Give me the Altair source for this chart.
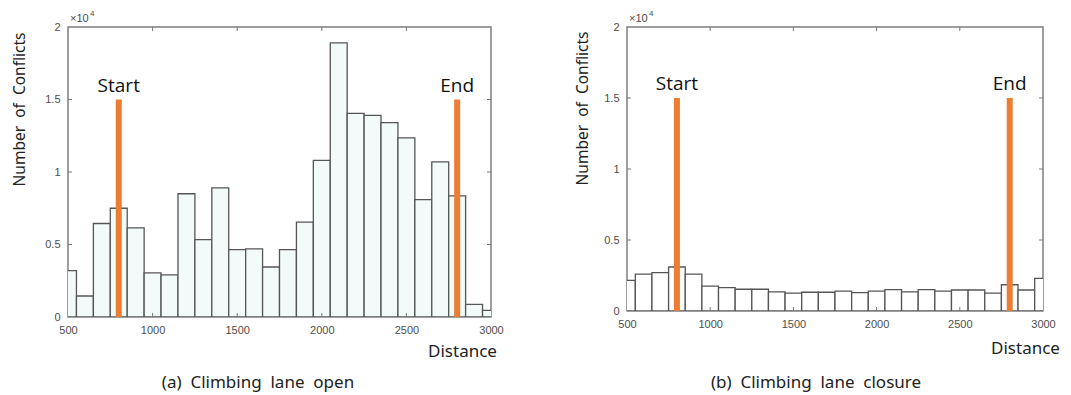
import altair as alt
import pandas as pd

# bin centres (bin width 100)
centers = [500, 600, 700, 800, 900, 1000, 1100, 1200, 1300, 1400, 1500, 1600, 1700,
           1800, 1900, 2000, 2100, 2200, 2300, 2400, 2500, 2600, 2700, 2800, 2900, 3000]
open_counts = [3200, 1450, 6450, 7500, 6150, 3050, 2900, 8500, 5330, 8900, 4650, 4700, 3450,
               4650, 6550, 10800, 18900, 14050, 13900, 13400, 12350, 8100, 10700, 8350, 870, 460]
closure_counts = [2150, 2600, 2700, 3100, 2600, 1750, 1650, 1530, 1530, 1340, 1260, 1320, 1320,
                  1400, 1300, 1400, 1500, 1350, 1500, 1400, 1480, 1480, 1260, 1850, 1480, 2300]

marker_pos = [800, 2800]
marker_top = [15000, 15000]
marker_labels = ["Start", "End"]

x_ticks = [500, 1000, 1500, 2000, 2500, 3000]
y_ticks = [0, 5000, 10000, 15000, 20000]
inner_x_ticks = [1000, 1500, 2000, 2500]
inner_y_ticks = [5000, 10000, 15000]

exp_base = ["×10"]
exp_power = ["4"]
captions = ["(a)\u00a0 Climbing\u00a0 lane\u00a0 open", "(b)\u00a0 Climbing\u00a0 lane\u00a0 closure"]
y_title = "Number\u00a0 of\u00a0 Conflicts"
x_title = "Distance"

GREY = "#4d4d4d"
ORANGE = "#ED7D31"


def panel(counts, width, height, fill, caption, ytx, yty, xtx, xty, cap_x, cap_y):
    df = pd.DataFrame({
        "start": [c - 50 for c in centers],
        "end": [c + 50 for c in centers],
        "count": counts,
        "zero": [0] * len(centers),
    })
    xs = alt.Scale(domain=[500, 3000], nice=False, zero=False)
    ys = alt.Scale(domain=[0, 20000], nice=False)

    bars = alt.Chart(df).mark_rect(
        fill=fill, stroke="#555555", strokeWidth=1.3, clip=True
    ).encode(
        x=alt.X("start:Q", scale=xs, axis=alt.Axis(
            values=x_ticks, format="d", title=x_title, grid=False, domain=False,
            ticks=False, tickSize=0, labelPadding=7, labelFontSize=11, labelColor=GREY,
            labelFont="Liberation Sans", titleFont="Noto Sans", titleFontSize=17,
            titleFontWeight="normal", titleColor="#222222", titleX=xtx, titleY=xty,
            titleAlign="center", titleBaseline="middle", labelFlush=False)),
        x2="end:Q",
        y=alt.Y("count:Q", scale=ys, axis=alt.Axis(
            values=y_ticks, labelExpr="datum.value / 10000", title=y_title,
            grid=False, domain=False, ticks=False, tickSize=0, labelPadding=8,
            labelFontSize=11, labelColor=GREY, labelFont="Liberation Sans",
            titleFont="Noto Sans", titleFontSize=15.5, titleFontWeight="normal",
            titleColor="#222222", titleX=ytx, titleY=yty, titleAlign="center",
            titleBaseline="middle", titleAngle=270)),
        y2="zero:Q",
    )

    mdf = pd.DataFrame({"pos": marker_pos, "top": marker_top, "label": marker_labels,
                        "zero": [0, 0]})
    rules = alt.Chart(mdf).mark_rule(color=ORANGE, strokeWidth=6).encode(
        x=alt.X("pos:Q", scale=xs), y=alt.Y("top:Q", scale=ys), y2="zero:Q")
    mtext = alt.Chart(mdf).mark_text(
        baseline="bottom", dy=-4, fontSize=19, font="Open Sans", color="#111111"
    ).encode(x=alt.X("pos:Q", scale=xs), y=alt.Y("top:Q", scale=ys), text="label:N")

    # inside tick marks (MATLAB box style)
    ydf = pd.DataFrame({"v": inner_y_ticks})
    xdf = pd.DataFrame({"v": inner_x_ticks})
    tl = alt.Chart(ydf).mark_rule(color="#777777", strokeWidth=1).encode(
        y=alt.Y("v:Q", scale=ys), x=alt.value(0), x2=alt.value(4))
    tr = alt.Chart(ydf).mark_rule(color="#777777", strokeWidth=1).encode(
        y=alt.Y("v:Q", scale=ys), x=alt.value(width - 4), x2=alt.value(width))
    tb = alt.Chart(xdf).mark_rule(color="#777777", strokeWidth=1).encode(
        x=alt.X("v:Q", scale=xs), y=alt.value(height - 4), y2=alt.value(height))
    tt = alt.Chart(xdf).mark_rule(color="#777777", strokeWidth=1).encode(
        x=alt.X("v:Q", scale=xs), y=alt.value(0), y2=alt.value(4))

    e1 = alt.Chart(pd.DataFrame({"t": exp_base})).mark_text(
        align="left", baseline="alphabetic", fontSize=11, font="Liberation Sans", color=GREY
    ).encode(x=alt.value(2), y=alt.value(-5), text="t:N")
    e2 = alt.Chart(pd.DataFrame({"t": exp_power})).mark_text(
        align="left", baseline="alphabetic", fontSize=8, font="Liberation Sans", color=GREY
    ).encode(x=alt.value(22), y=alt.value(-11), text="t:N")

    cap = alt.Chart(pd.DataFrame({"t": [caption]})).mark_text(
        align="center", baseline="middle", fontSize=17, font="Noto Sans", color="#222222"
    ).encode(x=alt.value(cap_x), y=alt.value(cap_y), text="t:N")

    return alt.layer(bars, rules, mtext, tl, tr, tb, tt, e1, e2, cap).properties(
        width=width, height=height)


pa = panel(open_counts, 423, 290, "#f3fafa", captions[0],
           ytx=-49, yty=82, xtx=394, xty=34, cap_x=190, cap_y=356)
pb = panel(closure_counts, 416, 284, "#ffffff", captions[1],
           ytx=-45, yty=81, xtx=398, xty=37, cap_x=189, cap_y=356)

chart = alt.hconcat(pa, pb, spacing=70).properties(
    padding={"left": 3, "top": 1, "right": 0, "bottom": 0},
    background="white",
).configure_view(stroke="#7f7f7f", strokeWidth=1.5)

chart.save("out.html", embed_options={"renderer": "svg", "actions": False})
